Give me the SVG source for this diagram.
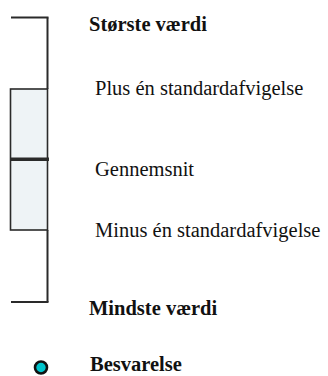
<svg xmlns="http://www.w3.org/2000/svg" width="328" height="376" viewBox="0 0 328 376">
<style>
.ln{stroke:#2a2a2a;stroke-width:2;fill:none}
.t{font-family:"Liberation Serif","Times New Roman",serif;font-size:20.5px;fill:#111}
.b{font-weight:bold}
</style>
<rect width="328" height="376" fill="#ffffff"/>
<g id="boxplot">
<rect x="10.5" y="89" width="37" height="141" fill="#eef3f6" stroke="#2a2a2a" stroke-width="1.6"/>
<line class="ln" x1="47.5" y1="17.5" x2="47.5" y2="89"/>
<line class="ln" x1="47.5" y1="230" x2="47.5" y2="302"/>
<line class="ln" x1="11" y1="17.5" x2="48.5" y2="17.5"/>
<line class="ln" x1="11" y1="302" x2="48.5" y2="302"/>
<line x1="10" y1="159.3" x2="49" y2="159.3" stroke="#2a2a2a" stroke-width="3.5"/>
</g>
<g id="labels">
<text class="t b" x="89" y="31">Største værdi</text>
<text class="t" x="95" y="95">Plus én standardafvigelse</text>
<text class="t" x="95" y="176">Gennemsnit</text>
<text class="t" x="95" y="237">Minus én standardafvigelse</text>
<text class="t b" x="89" y="315">Mindste værdi</text>
</g>
<g id="legend">
<circle cx="41" cy="367.5" r="6" fill="#00c4cc" stroke="#111" stroke-width="2.6"/>
<text class="t b" x="90" y="371">Besvarelse</text>
</g>
</svg>
